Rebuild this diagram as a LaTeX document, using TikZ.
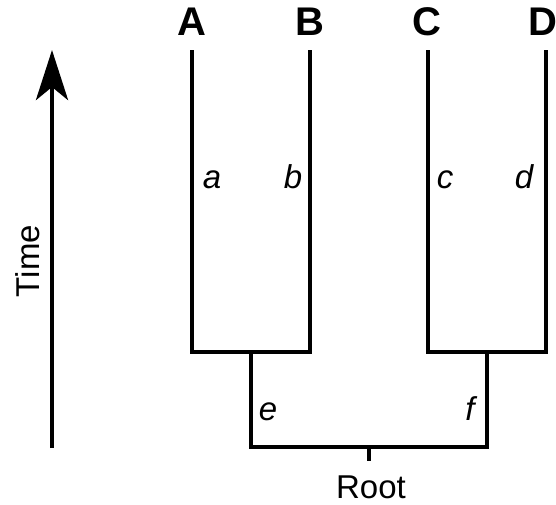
\documentclass[tikz,border=0pt]{standalone}
\usepackage{fontspec}
\setmainfont{Liberation Sans}
\usetikzlibrary{arrows.meta}
\begin{document}
\begin{tikzpicture}[x=1pt,y=-1pt,
  branch/.style={line width=4.8pt},
  tip/.style={font=\bfseries\fontsize{40}{40}\selectfont, anchor=center},
  lab/.style={font=\itshape\fontsize{33}{33}\selectfont, anchor=center},
  plain/.style={font=\fontsize{33}{33}\selectfont, anchor=center}]
\useasboundingbox (0,0) rectangle (556,504);
% tips
\coordinate (A) at (192,50);
\coordinate (B) at (310,50);
\coordinate (C) at (428,50);
\coordinate (D) at (546,50);
\coordinate (ABl) at (192,352);
\coordinate (ABr) at (310,352);
\coordinate (CDl) at (428,352);
\coordinate (CDr) at (546,352);
\coordinate (E) at (251,352);
\coordinate (F) at (487,352);
\coordinate (El) at (251,447);
\coordinate (Fr) at (487,447);
\coordinate (R) at (369,447);
\coordinate (Rt) at (369,461);
\draw[branch, line join=miter] (A) -- (ABl) -- (ABr) -- (B);
\draw[branch, line join=miter] (C) -- (CDl) -- (CDr) -- (D);
\draw[branch, line join=miter] (E) -- (El) -- (Fr) -- (F);
\draw[branch] (R) -- (Rt);
\node[tip] (lA) at (192,22) {A};
\node[tip] (lB) at (310,22) {B};
\node[tip] (lC) at (427,22) {C};
\node[tip] (lD) at (543,22) {D};
\node[lab] (la) at (212,180) {a};
\node[lab] (lb) at (293,177) {b};
\node[lab] (lc) at (445,180) {c};
\node[lab] (ld) at (524,177) {d};
\node[lab] (le) at (268,412) {e};
\node[lab] (lf) at (470,409) {f};
\node[plain] (root) at (371,487) {Root};
\node[plain, rotate=90] (time) at (28,261) {Time};
\coordinate (t0) at (52,448);
\coordinate (t1) at (52,50);
\draw[line width=4.8pt, -{Stealth[length=50pt,width=32pt,inset=13pt]}] (t0) -- (t1);
\end{tikzpicture}
\end{document}
